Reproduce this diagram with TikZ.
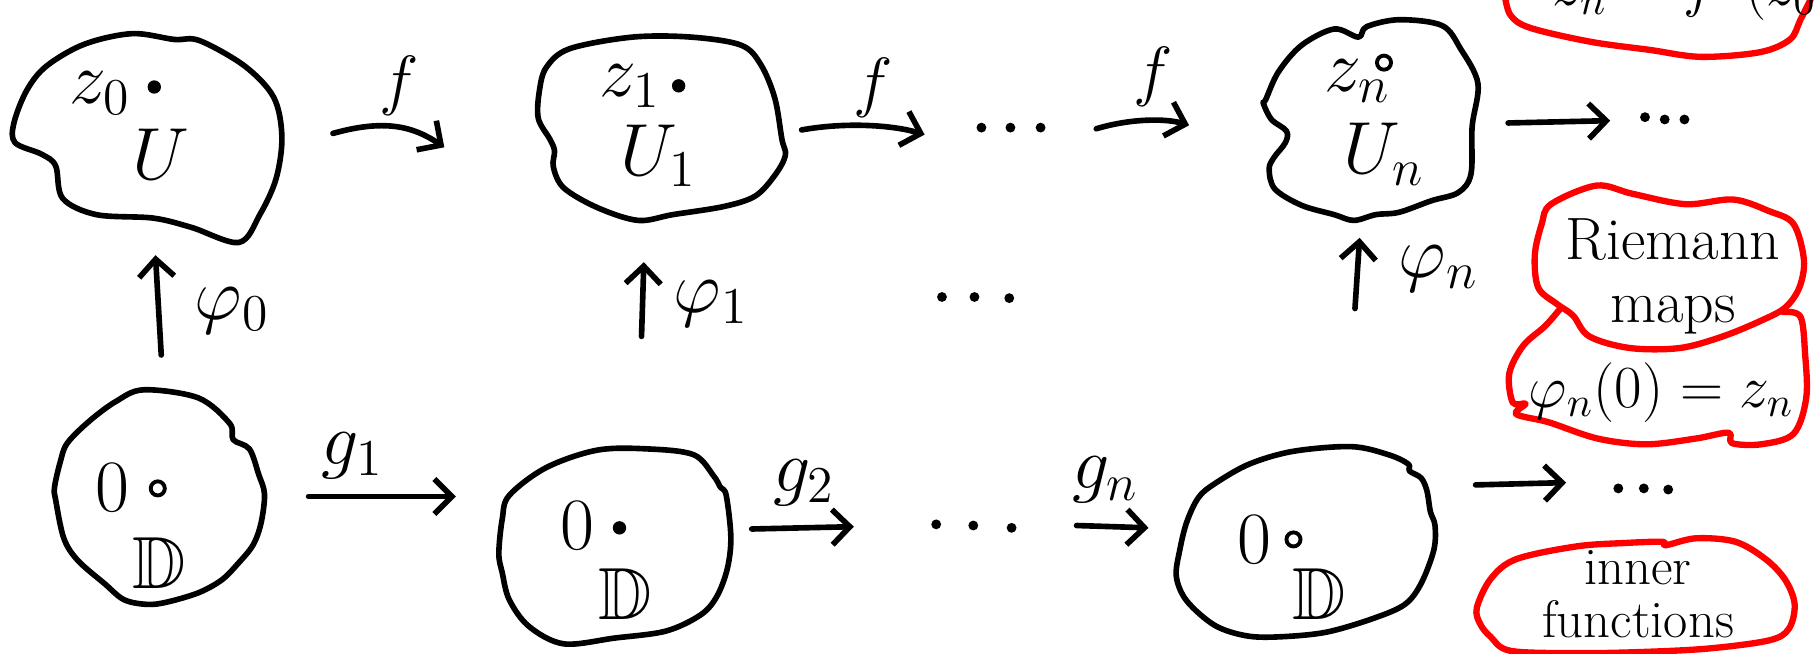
\documentclass[tikz,border=0pt]{standalone}
\usepackage{fix-cm}
\usepackage{amssymb}
\usetikzlibrary{arrows.meta}
\begin{document}
\begin{tikzpicture}[x=0.0116cm,y=-0.0116cm,
  blob/.style={line width=1.6pt,line cap=round,line join=round},
  rblob/.style={blob,draw=red,line width=1.8pt},
  arr/.style={line width=1.6pt,line cap=round,-{Straight Barb[length=5pt,width=10pt]}},
  lbl/.style={inner sep=0pt,font=\fontsize{21}{24}\selectfont},
  flbl/.style={inner sep=0pt,font=\fontsize{19}{22}\selectfont},
  rtxt/.style={inner sep=0pt,font=\fontsize{17}{20}\selectfont,align=center},
  pt/.style={circle,fill,inner sep=0pt,minimum size=3.8pt},
  ring/.style={circle,draw,line width=1.1pt,inner sep=0pt,minimum size=4pt},
  ddot/.style={circle,fill,inner sep=0pt,minimum size=2.8pt}]
\fill[white] (0,0) rectangle (1568,563);
\useasboundingbox (0,0) rectangle (1568,563);

% ---------- top row blobs ----------
\draw[blob] plot[smooth cycle,tension=0.55] coordinates {(114,29) (150,34) (172,35) (211,57) (236,84) (243,118) (238,154) (224,185) (206,209) (165,196) (132,188) (83,185) (54,171) (48,143) (36,133) (13,123) (12,106) (23,78) (40,57) (73,38)};
\node[lbl] (z0) at (86,80) {$z_0$};
\node[pt] (p0) at (133,75) {};
\node[lbl] (U0) at (139,133) {$U$};

\draw[blob] plot[smooth cycle,tension=0.55] coordinates {(491,42) (545,32) (596,32) (639,39) (656,56) (668,85) (674,120) (677,134) (668,151) (651,169) (624,178) (580,185) (550,190) (515,179) (486,162) (477,144) (478,130) (474,120) (464,102) (465,78) (471,58)};
\node[lbl] (z1) at (543,74) {$z_1$};
\node[pt] (p1) at (585,74) {};
\node[lbl] (U1) at (568,134) {$U_1$};

\draw[blob] plot[smooth cycle,tension=0.55] coordinates {(1091,86) (1102,62) (1122,39) (1150,25) (1171,32) (1178,23) (1206,17) (1243,22) (1259,42) (1274,72) (1269,109) (1268,150) (1257,166) (1234,173) (1206,183) (1186,185) (1167,190) (1150,185) (1122,177) (1099,163) (1094,146) (1098,136) (1108,123) (1109,113) (1096,103) (1089,89)};
\node[lbl] (zn) at (1170,70) {$z_n$};
\node[ring] (pn) at (1193,54) {};
\node[lbl] (Un) at (1193,133) {$U_n$};

% ---------- bottom row blobs ----------
\draw[blob] plot[smooth cycle,tension=0.55] coordinates {(124,336) (171,343) (198,365) (201,379) (215,387) (223,409) (228,426) (225,451) (218,470) (205,486) (191,500) (171,511) (144,519) (127,521) (107,517) (90,503) (67,483) (55,464) (48,431) (47,420) (52,398) (58,382) (77,363) (100,346)};
\node[lbl] (o1) at (97,420) {$0$};
\node[ring] (q1) at (136,421) {};
\node[lbl] (D1) at (137,485) {$\mathbb{D}$};

\draw[blob] plot[smooth cycle,tension=0.55] coordinates {(439,427) (471,403) (515,388) (559,387) (598,392) (615,410) (621,420) (626,427) (630,463) (627,490) (618,514) (604,530) (574,544) (530,550) (486,555) (456,540) (439,517) (433,494) (430,477) (433,447)};
\node[lbl] (o2) at (498,453) {$0$};
\node[pt] (q2) at (534,455) {};
\node[lbl] (D2) at (539,512) {$\mathbb{D}$};

\draw[blob] plot[smooth cycle,tension=0.55] coordinates {(1115,389) (1165,385) (1197,392) (1214,400) (1215,406) (1225,412) (1230,423) (1233,441) (1237,453) (1236,474) (1225,503) (1211,521) (1184,533) (1143,545) (1102,549) (1074,548) (1047,539) (1023,518) (1014,497) (1017,474) (1023,450) (1033,429) (1047,417) (1077,400)};
\node[lbl] (o3) at (1081,465) {$0$};
\node[ring] (q3) at (1115,465) {};
\node[lbl] (D3) at (1137,512) {$\mathbb{D}$};

% ---------- top arrows ----------
\coordinate (fa1) at (287,115); \coordinate (fb1) at (383,127);
\draw[arr] (fa1) .. controls (330,103) and (355,108) .. (fb1);
\node[flbl] (f1) at (344,74) {$f$};
\coordinate (fa2) at (691,112); \coordinate (fb2) at (797,116);
\draw[arr] (fa2) .. controls (730,105) and (770,108) .. (fb2);
\node[flbl] (f2) at (753,76) {$f$};
\node[ddot] (t1) at (846,110) {}; \node[ddot] (t2) at (871,110) {}; \node[ddot] (t3) at (897,110) {};
\coordinate (fa3) at (945,111); \coordinate (fb3) at (1025,108);
\draw[arr] (fa3) .. controls (975,102) and (1005,102) .. (fb3);
\node[flbl] (f3) at (994,66) {$f$};
\coordinate (fa4) at (1300,106); \coordinate (fb4) at (1388,104);
\draw[arr] (fa4) -- (fb4);
\node[ddot] (t4) at (1418,101) {}; \node[ddot] (t5) at (1435,103) {}; \node[ddot] (t6) at (1452,103) {};

% ---------- vertical arrows ----------
\coordinate (va0) at (139,306); \coordinate (vb0) at (134,220);
\draw[arr] (va0) -- (vb0);
\node[lbl] (phi0) at (200,268) {$\varphi_0$};
\coordinate (va1) at (553,290); \coordinate (vb1) at (555,226);
\draw[arr] (va1) -- (vb1);
\node[lbl] (phi1) at (613,262) {$\varphi_1$};
\node[ddot] (m1) at (812,256) {}; \node[ddot] (m2) at (840,256) {}; \node[ddot] (m3) at (870,257) {};
\coordinate (van) at (1168,266); \coordinate (vbn) at (1172,205);
\draw[arr] (van) -- (vbn);
\node[lbl] (phin) at (1240,232) {$\varphi_n$};

% ---------- bottom arrows ----------
\coordinate (ga1) at (266,428); \coordinate (gb1) at (393,428);
\draw[arr] (ga1) -- (gb1);
\node[lbl] (g1) at (304,393) {$g_1$};
\coordinate (ga2) at (648,456); \coordinate (gb2) at (736,454);
\draw[arr] (ga2) -- (gb2);
\node[lbl] (g2) at (693,416) {$g_2$};
\node[ddot] (b1) at (807,452) {}; \node[ddot] (b2) at (839,453) {}; \node[ddot] (b3) at (872,455) {};
\coordinate (gan) at (928,453); \coordinate (gbn) at (990,455);
\draw[arr] (gan) -- (gbn);
\node[lbl] (gn) at (953,414) {$g_n$};
\coordinate (ga4) at (1272,418); \coordinate (gb4) at (1350,416);
\draw[arr] (ga4) -- (gb4);
\node[ddot] (b4) at (1395,421) {}; \node[ddot] (b5) at (1417,421) {}; \node[ddot] (b6) at (1438,422) {};

% ---------- red notes ----------
\draw[rblob] plot[smooth,tension=0.55] coordinates {(1297,-5) (1302,13) (1319,24) (1371,36) (1422,43) (1466,49) (1517,45) (1543,34) (1552,17) (1563,-5)};
\node[rtxt,anchor=base west] (top) at (1338,5) {$z_n = f^n(z_0)$};

\draw[rblob] plot[smooth cycle,tension=0.55] coordinates {(1337,176) (1376,160) (1407,167) (1453,176) (1494,172) (1525,182) (1546,193) (1555,224) (1551,248) (1539,265) (1519,276) (1485,290) (1448,300) (1405,300) (1370,290) (1356,272) (1342,262) (1326,248) (1323,220) (1329,193)};
\node[rtxt] (riem) at (1442,238) {Riemann\\[-2pt]maps};

\draw[rblob] plot[smooth,tension=0.55] coordinates {(1537,269) (1552,273) (1556,305) (1557,343) (1546,374) (1518,383) (1493,382) (1490,373) (1462,378) (1419,383) (1377,378) (1335,364) (1307,357) (1315,348) (1304,347) (1301,322) (1313,298) (1332,281) (1345,266)};
\node[rtxt] (norm) at (1432,338) {$\varphi_n(0)=z_n$};

\draw[rblob] plot[smooth cycle,tension=0.55] coordinates {(1273,524) (1285,499) (1307,482) (1359,471) (1402,468) (1433,467) (1436,470) (1462,464) (1496,467) (1522,482) (1539,500) (1547,521) (1542,542) (1525,552) (1473,559) (1416,562) (1359,563) (1302,561) (1285,549) (1276,538)};
\node[rtxt,font=\fontsize{15}{18}\selectfont] (inner) at (1412,512) {inner\\[-3pt]functions};
\end{tikzpicture}
\end{document}
